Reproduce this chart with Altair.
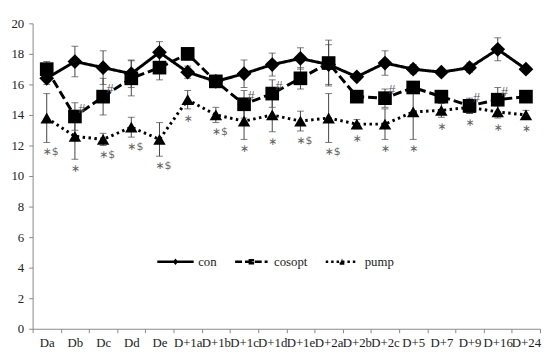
import altair as alt
import pandas as pd

cats = ["Da", "Db", "Dc", "Dd", "De", "D+1a", "D+1b", "D+1c", "D+1d", "D+1e",
        "D+2a", "D+2b", "D+2c", "D+5", "D+7", "D+9", "D+16", "D+24"]
series = ["con", "cosopt", "pump"]

con = [16.4, 17.5, 17.1, 16.7, 18.1, 16.8, 16.2, 16.7, 17.3, 17.7,
       17.3, 16.5, 17.4, 17.0, 16.8, 17.1, 18.3, 17.0]
con_err = [0.4, 1.0, 1.1, 0.9, 0.7, 0.4, 0.2, 0.9, 0.75, 0.7,
           1.3, 0.2, 0.8, 0.3, 0.2, 0.3, 0.75, 0.2]
cosopt = [17.0, 13.9, 15.2, 16.4, 17.1, 18.0, 16.2, 14.7, 15.4, 16.4,
          17.4, 15.2, 15.1, 15.8, 15.2, 14.6, 15.0, 15.2]
cosopt_err = [0.5, 0.9, 1.2, 1.15, 0.8, 0.4, 0.2, 0.9, 0.9, 0.7,
              1.5, 0.3, 0.6, 0.3, 0.2, 0.5, 0.8, 0.2]
pump = [13.8, 12.6, 12.4, 13.2, 12.4, 15.0, 14.0, 13.6, 14.0, 13.6,
        13.8, 13.4, 13.4, 14.2, 14.3, 14.5, 14.2, 14.0]
pump_err = [1.6, 1.5, 0.4, 0.65, 1.1, 0.6, 0.5, 1.2, 1.1, 0.65,
            1.6, 0.3, 1.0, 1.8, 0.45, 0.4, 0.4, 0.3]

pump_marks = ["∗$", "∗", "∗$", "∗$", "∗$", "∗", "∗$", "∗", "∗", "∗$",
              "∗$", "∗", "∗", "∗", "∗", "∗", "∗", "∗"]
cosopt_marks = ["", "#", "#", "", "", "", "", "#", "#", "",
                "", "", "#", "", "", "#", "#", ""]

rows = []
for name, vals, errs in [("con", con, con_err), ("cosopt", cosopt, cosopt_err), ("pump", pump, pump_err)]:
    for c, v, e in zip(cats, vals, errs):
        rows.append({"cat": c, "series": name, "val": v, "lo": v - e, "hi": v + e})
df = pd.DataFrame(rows)

ann_p = pd.DataFrame({"cat": cats, "y": [v - e for v, e in zip(pump, pump_err)], "lab": pump_marks})
ann_c = pd.DataFrame({"cat": cats, "y": cosopt, "lab": cosopt_marks})
ann_c = ann_c[ann_c["lab"] != ""]
leg_df = pd.DataFrame({"series": series})

X = alt.X("cat:N", sort=cats, title=None,
          scale=alt.Scale(type="band", domain=cats, paddingInner=0, paddingOuter=0),
          axis=alt.Axis(labelAngle=0, tickBand="extent", labelOverlap=False, tickSize=4,
                        domainColor="#888", tickColor="#888", labelFont="Liberation Serif",
                        labelFontSize=13, labelColor="#222", labelPadding=4, grid=False))
y_axis = alt.Axis(values=list(range(0, 21, 2)), grid=False, tickSize=4, labelPadding=5,
                  labelOverlap=False, labelFlush=False,
                  domainColor="#888", tickColor="#888", labelFont="Liberation Serif",
                  labelFontSize=13, labelColor="#222")
y_scale = alt.Scale(domain=[0, 20])


def Yf(field):
    return alt.Y(field, title=None, scale=y_scale, axis=y_axis)


base = alt.Chart(df)

err_rule = base.mark_rule(color="#444", strokeWidth=1).encode(
    x=X, y=Yf("lo:Q"), y2="hi:Q")
cap_hi = base.mark_tick(color="#444", thickness=1, size=7).encode(x=X, y=Yf("hi:Q"))
cap_lo = base.mark_tick(color="#444", thickness=1, size=7).encode(x=X, y=Yf("lo:Q"))

lines = base.mark_line(color="black").encode(
    x=X, y=Yf("val:Q"), detail="series:N",
    strokeDash=alt.StrokeDash("series:N", scale=alt.Scale(domain=series, range=[[1, 0], [9, 4], [2.5, 3.5]]), legend=None),
    strokeWidth=alt.StrokeWidth("series:N", scale=alt.Scale(domain=series, range=[3, 3, 2.5]), legend=None),
)

points = base.mark_point(filled=True, color="black", opacity=1).encode(
    x=X, y=Yf("val:Q"),
    shape=alt.Shape("series:N", scale=alt.Scale(domain=series, range=["diamond", "square", "triangle-up"]), legend=None),
    size=alt.Size("series:N", scale=alt.Scale(domain=series, range=[225, 160, 180]), legend=None),
)

txt_p = alt.Chart(ann_p).mark_text(baseline="middle", align="left", dx=-4, dy=10, font="DejaVu Sans", fontSize=11, color="#666").encode(
    x=X, y=Yf("y:Q"), text="lab:N")
txt_c = alt.Chart(ann_c).mark_text(baseline="middle", dx=7, dy=-8, font="Liberation Sans", fontSize=13, color="#555").encode(
    x=X, y=Yf("y:Q"), text="lab:N")

# legend symbols: a line plus a small marker built from short sub-paths
paths = [
    "M-1.12,0H1.12M0,-0.08L0.065,0L0,0.08L-0.065,0Z",
    "M-1,0H1M-0.17,-0.09H0.17M-0.17,0.09H0.17",
    "M-1,0H1M-0.02,-0.11H0.02M-0.07,0H0.07M-0.145,0.11H0M0,0.11H0.145",
]
legend_layer = alt.Chart(leg_df).transform_filter("false").mark_point(
    filled=False, color="black", strokeWidth=2.5, opacity=1).encode(
    shape=alt.Shape("series:N", scale=alt.Scale(domain=series, range=paths),
                    legend=alt.Legend(orient="none", legendX=127, legendY=224, direction="horizontal", columns=3,
                                      title=None, symbolSize=1089, symbolStrokeColor="black",
                                      symbolStrokeWidth=2.5, labelFont="Liberation Serif", labelFontSize=13,
                                      labelColor="#222", columnPadding=13, labelOffset=5)),
    strokeDash=alt.StrokeDash("series:N", scale=alt.Scale(domain=series, range=[[1, 0], [7, 3], [2.5, 3]])),
)

chart = alt.layer(err_rule, cap_hi, cap_lo, lines, points, txt_p, txt_c, legend_layer).resolve_scale(
    shape="independent", strokeDash="independent"
).properties(
    width=515, height=310, autosize="none",
    padding={"left": 25, "top": 13, "right": 2, "bottom": 20},
).configure_view(stroke=None)

chart.save("out.html", embed_options={"renderer": "svg", "actions": False})
